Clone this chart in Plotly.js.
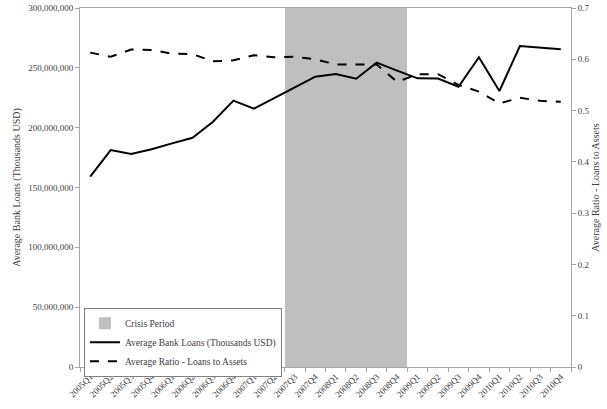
<!DOCTYPE html>
<html><head><meta charset="utf-8">
<script src="https://cdn.plot.ly/plotly-3.0.1.min.js"></script>
<style>html,body{margin:0;padding:0;background:#fff}#chart{width:607px;height:409px}</style>
</head><body><div id="chart"></div>
<script>
const quarters = ["2005Q1","2005Q2","2005Q3","2005Q4","2006Q1","2006Q2","2006Q3","2006Q4","2007Q1","2007Q2","2007Q3","2007Q4","2008Q1","2008Q2","2008Q3","2008Q4","2009Q1","2009Q2","2009Q3","2009Q4","2010Q1","2010Q2","2010Q3","2010Q4"];
const avgLoans = [159000000,181300000,178000000,181900000,186900000,191600000,205000000,222600000,215900000,224500000,233700000,242600000,244800000,240900000,254300000,247700000,241200000,241000000,234200000,258800000,230600000,268200000,266800000,265500000];
const avgRatio = [0.613,0.605,0.619,0.618,0.611,0.610,0.596,0.598,0.608,0.604,0.605,0.600,0.590,0.590,0.590,0.556,0.571,0.571,0.550,0.537,0.514,0.525,0.519,0.517];
const crisisQuarters = ["2007Q3","2007Q4","2008Q1","2008Q2","2008Q3","2008Q4"];
const crisisLevel = [300000000,300000000,300000000,300000000,300000000,300000000];

const fam = "Liberation Serif, Times New Roman, serif";
const txt = "#404040";
const axisGray = "#a6a6a6";

const traces = [
  {type: "bar", name: "Crisis Period", x: crisisQuarters, y: crisisLevel, width: 1,
   marker: {color: "#bfbfbf", line: {width: 0}}, yaxis: "y", hoverinfo: "skip"},
  {type: "scatter", mode: "lines", name: "Average Bank Loans (Thousands USD)", x: quarters, y: avgLoans,
   line: {color: "#000000", width: 2}, yaxis: "y"},
  {type: "scatter", mode: "lines", name: "Average Ratio - Loans to Assets", x: quarters, y: avgRatio,
   line: {color: "#000000", width: 2, dash: "dash"}, yaxis: "y2"}
];

const layout = {
  width: 607, height: 409,
  margin: {l: 80, r: 36, t: 8, b: 42, pad: 0},
  paper_bgcolor: "#fff", plot_bgcolor: "#fff",
  font: {family: fam, size: 10, color: txt},
  showlegend: true,
  bargap: 0,
  legend: {x: 0.008, y: 0.165, xanchor: "left", yanchor: "top", bgcolor: "#fff",
           bordercolor: "#808080", borderwidth: 1, font: {family: fam, size: 9.5, color: txt},
           tracegroupgap: 0, itemwidth: 30},
  xaxis: {type: "category", categoryorder: "array", categoryarray: quarters,
          range: [-0.5, 23.5], showgrid: false, zeroline: false,
          showline: true, linecolor: axisGray, linewidth: 1, mirror: true,
          ticks: "outside", tickson: "boundaries", ticklen: 4, tickcolor: axisGray,
          tickangle: -45, automargin: false, tickfont: {family: fam, size: 9, color: txt}},
  yaxis: {range: [0, 300000000], dtick: 50000000, tickformat: ",d", showgrid: false, zeroline: false,
          showline: true, linecolor: axisGray, linewidth: 1, ticks: "outside", ticklen: 4, tickcolor: axisGray,
          tickfont: {family: fam, size: 9, color: txt},
          title: {text: "Average Bank Loans (Thousands USD)", font: {family: fam, size: 10, color: txt}, standoff: 5}},
  yaxis2: {overlaying: "y", side: "right", range: [0, 0.7], dtick: 0.1, showgrid: false, zeroline: false,
           showline: true, linecolor: axisGray, linewidth: 1, ticks: "outside", ticklen: 4, tickcolor: axisGray,
           tickfont: {family: fam, size: 9, color: txt},
           title: {text: "Average Ratio - Loans to Assets", font: {family: fam, size: 10, color: txt}, standoff: 3}}
};

Plotly.newPlot("chart", traces, layout, {displayModeBar: false, staticPlot: true});
</script>
</body></html>
